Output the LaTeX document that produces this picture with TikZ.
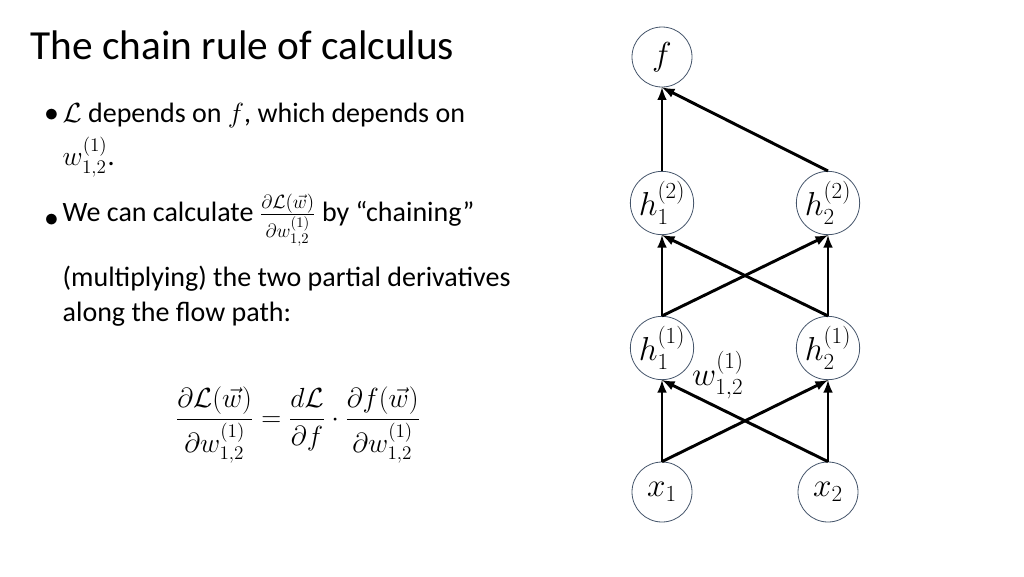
\documentclass[tikz,border=0pt]{standalone}
\usepackage{fontspec}
\setmainfont{Carlito}
\usepackage{amsmath}
\begin{document}
\begin{tikzpicture}[x=0.75pt,y=-0.75pt,
  neuron/.style={circle,draw={rgb,255:red,68;green,84;blue,106},line width=0.6pt,minimum size=45pt,inner sep=0pt,font=\fontsize{24}{26}\selectfont},
  edge/.style={-latex,line width=2.2pt},
  btxt/.style={anchor=west,font=\fontsize{21}{24}\selectfont}]
\useasboundingbox (0,0) rectangle (1024,576);
\node[anchor=west,font=\fontsize{31}{34}\selectfont] (title) at (26,45) {The chain rule of calculus};
\node[btxt] (d1) at (40,115) {$\bullet$};
\node[btxt] (b1) at (58,115) {$\mathcal{L}$ depends on $f$, which depends on};
\node[btxt] (b1b) at (58,157) {$w^{(1)}_{1,2}$.};
\node[btxt] (d2) at (40,220) {$\bullet$};
\node[btxt] (b2) at (58,220) {We can calculate $\frac{\partial\mathcal{L}(\vec{w})}{\partial w^{(1)}_{1,2}}$ by “chaining”};
\node[btxt] (b2b) at (58,279) {(multiplying) the two partial derivatives};
\node[btxt] (b2c) at (58,314) {along the flow path:};
\node[font=\fontsize{22}{26}\selectfont] (eq) at (298,425) {$\dfrac{\partial\mathcal{L}(\vec{w})}{\partial w^{(1)}_{1,2}}=\dfrac{d\mathcal{L}}{\partial f}\cdot\dfrac{\partial f(\vec{w})}{\partial w^{(1)}_{1,2}}$};

\node[neuron] (f) at (662,57) {$f$};
\node[neuron] (h12) at (662,203) {$h^{(2)}_1$};
\node[neuron] (h22) at (828,203) {$h^{(2)}_2$};
\node[neuron] (h11) at (662,348) {$h^{(1)}_1$};
\node[neuron] (h21) at (828,348) {$h^{(1)}_2$};
\node[neuron] (x1) at (662,492) {$x_1$};
\node[neuron] (x2) at (828,492) {$x_2$};
\node[font=\fontsize{24}{26}\selectfont] (w) at (718,375) {$w^{(1)}_{1,2}$};

\draw[edge] (x1.north) -- (h11.south);
\draw[edge] (x1.north) -- (h21.south);
\draw[edge] (x2.north) -- (h21.south);
\draw[edge] (x2.north) -- (h11.south);
\draw[edge] (h11.north) -- (h12.south);
\draw[edge] (h11.north) -- (h22.south);
\draw[edge] (h21.north) -- (h22.south);
\draw[edge] (h21.north) -- (h12.south);
\draw[edge] (h12.north) -- (f.south);
\draw[edge] (h22.north) -- (f.south);
\end{tikzpicture}
\end{document}
